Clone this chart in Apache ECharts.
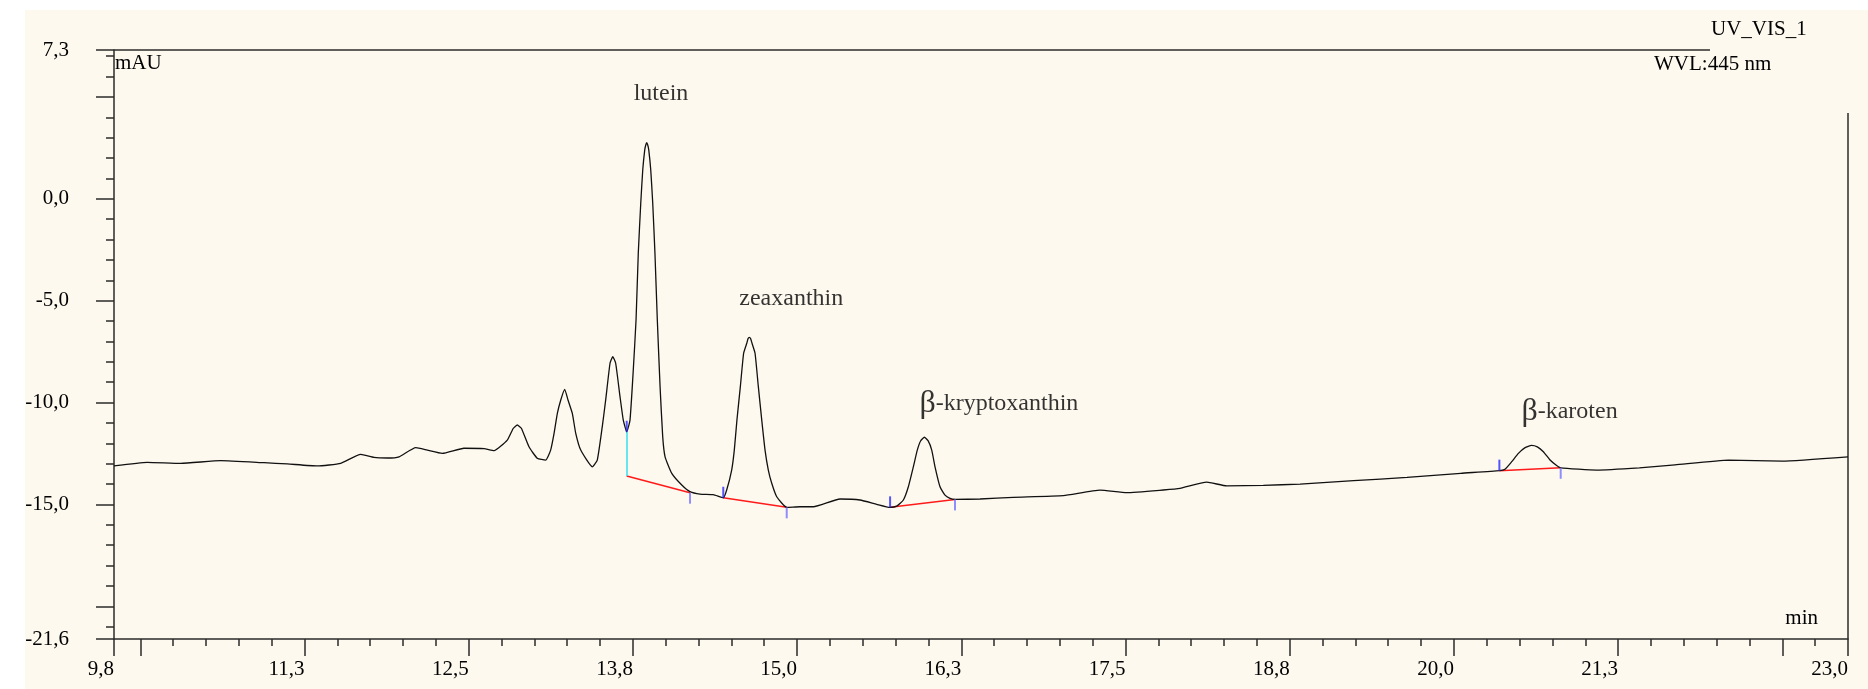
<!DOCTYPE html>
<html>
<head>
<meta charset="utf-8">
<script src="https://cdn.jsdelivr.net/npm/echarts@6/dist/echarts.min.js"></script>
<style>
html,body{margin:0;padding:0;background:#ffffff;}
#bg{position:absolute;left:25px;top:10px;width:1843px;height:679px;background:#fdf9ef;}
#c{position:absolute;left:0;top:0;width:1868px;height:689px;}
</style>
</head>
<body>
<div id="bg"></div>
<div id="c"></div>
<script>
// ---- data ----
const timeMin = [
  9.800, 10.053, 10.308, 10.612, 10.942, 11.119, 11.348, 11.526, 11.678, 11.779,
  11.881, 11.970, 12.097, 12.185, 12.299, 12.464, 12.617, 12.693, 12.794, 12.840,
  12.870, 12.901, 12.959, 13.022, 13.086, 13.124, 13.150, 13.175, 13.201, 13.231,
  13.256, 13.289, 13.315, 13.353, 13.441, 13.479, 13.517, 13.543, 13.576, 13.597,
  13.619, 13.652, 13.677, 13.703, 13.728, 13.753, 13.774, 13.791, 13.810, 13.825,
  13.840, 13.848, 13.855, 13.863, 13.871, 13.886, 13.901, 13.918, 13.936, 13.957,
  13.977, 13.995, 14.046, 14.122, 14.185, 14.261, 14.362, 14.438, 14.464, 14.502,
  14.522, 14.542, 14.568, 14.593, 14.617, 14.627, 14.636, 14.646, 14.657, 14.680,
  14.705, 14.731, 14.756, 14.781, 14.807, 14.845, 14.921, 15.022, 15.124, 15.327,
  15.479, 15.606, 15.708, 15.759, 15.809, 15.847, 15.885, 15.915, 15.941, 15.969,
  15.997, 16.025, 16.050, 16.088, 16.126, 16.164, 16.202, 16.393, 16.646, 17.027,
  17.306, 17.509, 17.788, 17.915, 18.118, 18.271, 18.549, 18.829, 19.237, 19.643,
  20.052, 20.346, 20.389, 20.440, 20.491, 20.542, 20.590, 20.635, 20.681, 20.732,
  20.777, 20.813, 21.085, 21.412, 21.683, 22.091, 22.498, 23.000
];
const signalMAU = [
  -13.11, -12.93, -12.98, -12.85, -12.95, -13.01, -13.11, -12.98, -12.54, -12.69,
  -12.72, -12.66, -12.21, -12.33, -12.49, -12.24, -12.26, -12.36, -11.84, -11.26,
  -11.10, -11.26, -12.17, -12.73, -12.82, -12.33, -11.51, -10.53, -9.87, -9.35,
  -9.87, -10.53, -11.51, -12.33, -13.15, -12.82, -11.18, -9.87, -8.07, -7.75,
  -8.07, -9.71, -10.86, -11.43, -10.86, -8.40, -5.95, -2.68, -0.21, 1.41,
  2.39, 2.64, 2.75, 2.64, 2.39, 1.41, -0.21, -2.68, -5.95, -9.22,
  -11.67, -12.66, -13.47, -14.04, -14.37, -14.49, -14.52, -14.67, -14.29, -13.31,
  -12.33, -10.86, -9.22, -7.58, -7.09, -6.86, -6.80, -6.86, -7.09, -7.58,
  -9.22, -10.86, -12.33, -13.31, -13.96, -14.62, -15.14, -15.11, -15.11, -14.73,
  -14.78, -14.99, -15.14, -15.08, -14.78, -14.13, -13.15, -12.33, -11.87, -11.70,
  -11.87, -12.33, -13.15, -14.13, -14.54, -14.70, -14.75, -14.73, -14.65, -14.57,
  -14.30, -14.42, -14.29, -14.21, -13.90, -14.09, -14.06, -14.00, -13.83, -13.67,
  -13.47, -13.34, -13.27, -12.90, -12.49, -12.21, -12.10, -12.17, -12.41, -12.82,
  -13.06, -13.20, -13.31, -13.20, -13.06, -12.82, -12.87, -12.66
];

// peaks
const peakNames = ['lutein', 'zeaxanthin', 'β-kryptoxanthin', 'β-karoten'];
const peakApexTime = [13.855, 14.636, 15.969, 20.590];
const peakApexValue = [2.75, -6.80, -11.70, -12.10];

// integration baselines
const baseStartTime = [13.703, 14.438, 15.708, 20.346];
const baseStartValue = [-13.60, -14.67, -15.14, -13.34];
const baseEndTime = [14.185, 14.921, 16.202, 20.813];
const baseEndValue = [-14.42, -15.14, -14.75, -13.20];
// peak start marks (on the trace)
const startMarkTime = [13.703, 14.438, 15.708, 20.346];
const startMarkValue = [-11.43, -14.67, -15.14, -13.34];
// perpendicular drop (lutein start)
const dropTime = [13.703];
const dropTop = [-11.43];
const dropBottom = [-13.60];

// axis ticks / labels
const xLabelValues = [9.8, 11.25, 12.5, 13.75, 15.0, 16.25, 17.5, 18.75, 20.0, 21.25, 23.0];
const xLabelTexts = ['9,8', '11,3', '12,5', '13,8', '15,0', '16,3', '17,5', '18,8', '20,0', '21,3', '23,0'];
const xMajorTicks = [9.8, 10.0, 11.25, 12.5, 13.75, 15.0, 16.25, 17.5, 18.75, 20.0, 21.25, 22.5, 23.0];
const xMinorTicks = [10.25, 10.5, 10.75, 11.0, 11.5, 11.75, 12.0, 12.25, 12.75, 13.0, 13.25, 13.5,
  14.0, 14.25, 14.5, 14.75, 15.25, 15.5, 15.75, 16.0, 16.5, 16.75, 17.0, 17.25, 17.75, 18.0, 18.25,
  18.5, 19.0, 19.25, 19.5, 19.75, 20.25, 20.5, 20.75, 21.0, 21.5, 21.75, 22.0, 22.25, 22.75];
const yLabelValues = [7.3, 0, -5, -10, -15, -21.6];
const yLabelTexts = ['7,3', '0,0', '-5,0', '-10,0', '-15,0', '-21,6'];
const yMajorTicks = [7.3, 5, 0, -5, -10, -15, -20, -21.6];
const yMinorTicks = [7, 6, 4, 3, 2, 1, -1, -2, -3, -4, -6, -7, -8, -9, -11, -12, -13, -14,
  -16, -17, -18, -19, -21];

// ---- chart ----
const FONT = '"Liberation Serif", "Times New Roman", serif';
const AX = '#2b2b2b';
function lookup(vals, texts, v) {
  let best = 0, d = Infinity;
  vals.forEach((x, i) => { if (Math.abs(x - v) < d) { d = Math.abs(x - v); best = i; } });
  return d < 1e-6 ? texts[best] : '';
}
const trace = timeMin.map((t, i) => [t, signalMAU[i]]);
const labelOffsets = [[-13, -61], [-10, -51], [-5, -50], [-10, -50]];

const chart = echarts.init(document.getElementById('c'), null, {renderer: 'canvas'});
const option = {
  backgroundColor: 'transparent',
  animation: false,
  grid: {left: 114, right: 20, top: 50, bottom: 50, containLabel: false, outerBoundsMode: 'none'},
  xAxis: [
    {
      type: 'value', min: 9.8, max: 23, position: 'bottom',
      axisLine: {show: true, onZero: false, lineStyle: {color: AX, width: 1.5}},
      axisTick: {show: true, customValues: xMajorTicks, length: 17, lineStyle: {color: AX, width: 1.5}},
      axisLabel: {
        show: true, customValues: xLabelValues, align: 'right', margin: 20,
        fontFamily: FONT, fontSize: 21, color: '#000',
        formatter: v => lookup(xLabelValues, xLabelTexts, v)
      },
      splitLine: {show: false}
    },
    {
      type: 'value', min: 9.8, max: 23, position: 'bottom',
      axisLine: {show: false, onZero: false},
      axisTick: {show: true, customValues: xMinorTicks, length: 7, lineStyle: {color: AX, width: 1.5}},
      axisLabel: {show: false},
      splitLine: {show: false}
    }
  ],
  yAxis: [
    {
      type: 'value', min: -21.6, max: 7.3, position: 'left',
      axisLine: {show: true, onZero: false, lineStyle: {color: AX, width: 1.5}},
      axisTick: {show: true, customValues: yMajorTicks, length: 18, lineStyle: {color: AX, width: 1.5}},
      axisLabel: {
        show: true, customValues: yLabelValues, margin: 45,
        fontFamily: FONT, fontSize: 21, color: '#000',
        formatter: v => lookup(yLabelValues, yLabelTexts, v)
      },
      splitLine: {show: false}
    },
    {
      type: 'value', min: -21.6, max: 7.3, position: 'left',
      axisLine: {show: false, onZero: false},
      axisTick: {show: true, customValues: yMinorTicks, length: 8, lineStyle: {color: AX, width: 1.5}},
      axisLabel: {show: false},
      splitLine: {show: false}
    }
  ],
  series: [
    {
      type: 'lines', coordinateSystem: 'cartesian2d', xAxisIndex: 0, yAxisIndex: 0, z: 3,
      data: baseStartTime.map((t, i) => ({coords: [[t, baseStartValue[i]], [baseEndTime[i], baseEndValue[i]]]})),
      lineStyle: {color: '#ff1a1a', width: 1.5, opacity: 1}
    },
    {
      type: 'lines', coordinateSystem: 'cartesian2d', xAxisIndex: 0, yAxisIndex: 0, z: 3,
      data: dropTime.map((t, i) => ({coords: [[t, dropTop[i]], [t, dropBottom[i]]]})),
      lineStyle: {color: '#33e0f0', width: 1.5, opacity: 1}
    },
    {
      type: 'line', xAxisIndex: 0, yAxisIndex: 0, z: 4,
      data: trace, showSymbol: false, symbol: 'none',
      smooth: 0.15,
      lineStyle: {color: '#111111', width: 1.3}
    },
    {
      type: 'scatter', xAxisIndex: 0, yAxisIndex: 0, z: 5,
      data: startMarkTime.map((t, i) => [t, startMarkValue[i]]),
      symbol: 'rect', symbolSize: [2, 11], symbolOffset: [0, -5.5],
      itemStyle: {color: '#2a2aff'}, silent: true
    },
    {
      type: 'scatter', xAxisIndex: 0, yAxisIndex: 0, z: 5,
      data: baseEndTime.map((t, i) => [t, baseEndValue[i]]),
      symbol: 'rect', symbolSize: [2, 11], symbolOffset: [0, 5.5],
      itemStyle: {color: '#7373ff'}, silent: true
    },
    {
      type: 'scatter', xAxisIndex: 0, yAxisIndex: 0, z: 6,
      symbolSize: 0, silent: true,
      data: peakApexTime.map((t, i) => ({
        value: [t, peakApexValue[i]], name: peakNames[i],
        label: {position: labelOffsets[i]}
      })),
      label: {
        show: true, align: 'left', verticalAlign: 'top',
        formatter: p => p.name.startsWith('β') ? '{b|β}{t|' + p.name.slice(1) + '}' : '{t|' + p.name + '}',
        rich: {
          b: {fontFamily: FONT, fontSize: 32, color: '#000'},
          t: {fontFamily: FONT, fontSize: 24, color: '#000'}
        }
      }
    }
  ],
  graphic: [
    {type: 'line', shape: {x1: 114, y1: 50, x2: 1710, y2: 50}, style: {stroke: AX, lineWidth: 1.5}},
    {type: 'line', shape: {x1: 1848, y1: 113, x2: 1848, y2: 639}, style: {stroke: AX, lineWidth: 1.5}},
    {type: 'text', x: 1711, y: 29, style: {text: 'UV_VIS_1', font: '21px ' + FONT, fill: '#000', verticalAlign: 'middle'}},
    {type: 'text', x: 1654, y: 64, style: {text: 'WVL:445 nm', font: '21px ' + FONT, fill: '#000', verticalAlign: 'middle'}},
    {type: 'text', x: 115, y: 63, style: {text: 'mAU', font: '21px ' + FONT, fill: '#000', verticalAlign: 'middle'}},
    {type: 'text', x: 1818, y: 618, style: {text: 'min', font: '21px ' + FONT, fill: '#000', align: 'right', verticalAlign: 'middle'}}
  ]
};
chart.setOption(option);
</script>
</body>
</html>
